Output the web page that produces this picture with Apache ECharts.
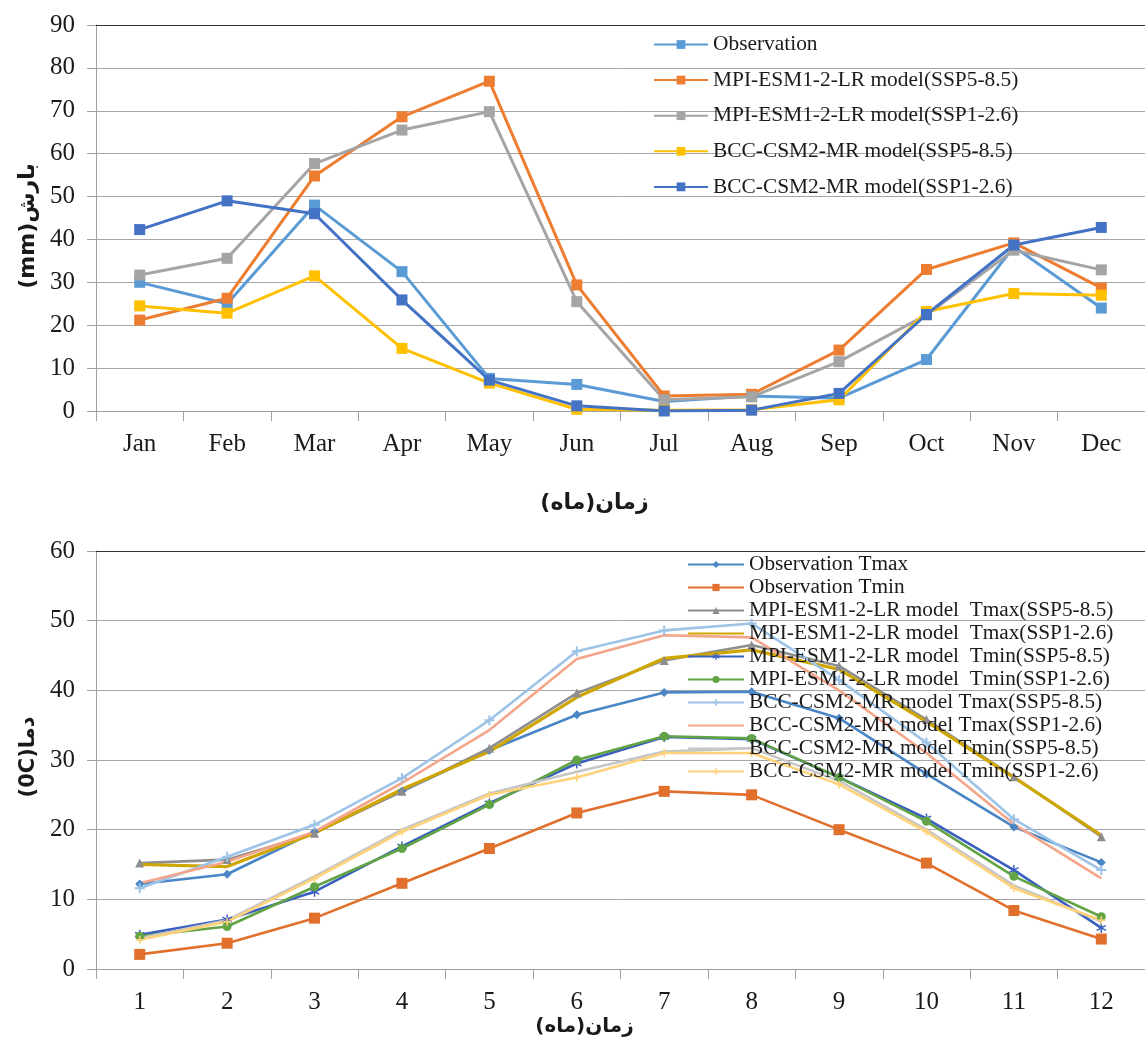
<!DOCTYPE html>
<html>
<head>
<meta charset="utf-8">
<script src="https://cdn.jsdelivr.net/npm/echarts@6/dist/echarts.min.js"></script>
<style>html,body{margin:0;padding:0;background:#fff;}#c{width:1145px;height:1039px;}</style>
</head>
<body>
<div id="c"></div>
<script>
// ---- Top chart: precipitation ----
const months = ['Jan','Feb','Mar','Apr','May','Jun','Jul','Aug','Sep','Oct','Nov','Dec'];
const obsP    = [30, 25, 48, 32.5, 7.6, 6.2, 2.2, 3.5, 3, 12, 38.3, 24];
const mpi585P = [21.2, 26.3, 54.8, 68.6, 76.9, 29.4, 3.5, 3.9, 14.2, 33, 39.2, 28.7];
const mpi126P = [31.7, 35.6, 57.7, 65.5, 69.8, 25.5, 2.6, 3.3, 11.5, 22.4, 37.5, 32.9];
const bcc585P = [24.5, 22.8, 31.5, 14.6, 6.5, 0.4, 0.2, 0.3, 2.6, 23.2, 27.4, 27];
const bcc126P = [42.3, 49, 46, 25.9, 7.2, 1.2, 0, 0.2, 4.1, 22.5, 38.7, 42.8];
const precipTicks = [0, 90, 10];

// ---- Bottom chart: temperature ----
const monthNums = ['1','2','3','4','5','6','7','8','9','10','11','12'];
const obsTmax    = [12.2, 13.6, 19.7, 25.5, 31.4, 36.5, 39.7, 39.8, 36, 28, 20.4, 15.3];
const obsTmin    = [2.1, 3.7, 7.3, 12.3, 17.3, 22.4, 25.5, 25, 20, 15.2, 8.4, 4.3];
const mpiTmax585 = [15.2, 15.7, 19.5, 25.5, 31.7, 39.6, 44.3, 46.5, 43.5, 35.8, 27.6, 19];
const mpiTmax126 = [15, 14.7, 19.5, 25.8, 31.2, 39, 44.6, 45.8, 43, 35.5, 27.5, 19.2];
const mpiTmin585 = [4.9, 7.1, 11.1, 17.6, 23.8, 29.5, 33.3, 33, 27.5, 21.6, 14.2, 5.9];
const mpiTmin126 = [4.7, 6.1, 11.8, 17.3, 23.6, 30, 33.4, 33.1, 27.5, 21.2, 13.3, 7.5];
const bccTmax585 = [11.6, 16.1, 20.7, 27.4, 35.7, 45.6, 48.6, 49.6, 41.5, 32.5, 21.5, 14.2];
const bccTmax126 = [12.3, 15.4, 19.7, 26.7, 34.3, 44.5, 47.9, 47.6, 40, 31, 20.8, 13];
const bccTmin585 = [4.4, 7, 13.3, 20, 25.2, 28.3, 31.2, 31.7, 27, 20, 12, 6.8];
const bccTmin126 = [4.2, 6.8, 13, 19.7, 25, 27.5, 31, 31, 26.5, 19.7, 11.6, 7];
const tempTicks = [0, 60, 10];

const topNames = ['Observation','MPI-ESM1-2-LR model(SSP5-8.5)','MPI-ESM1-2-LR model(SSP1-2.6)','BCC-CSM2-MR model(SSP5-8.5)','BCC-CSM2-MR model(SSP1-2.6)'];
const botNames = ['Observation Tmax','Observation Tmin','MPI-ESM1-2-LR model  Tmax(SSP5-8.5)','MPI-ESM1-2-LR model  Tmax(SSP1-2.6)','MPI-ESM1-2-LR model  Tmin(SSP5-8.5)','MPI-ESM1-2-LR model  Tmin(SSP1-2.6)','BCC-CSM2-MR model Tmax(SSP5-8.5)','BCC-CSM2-MR model Tmax(SSP1-2.6)','BCC-CSM2-MR model Tmin(SSP5-8.5)','BCC-CSM2-MR model Tmin(SSP1-2.6)'];

// axis titles, split into visual-order pieces (left to right on screen)
const xNameParts = ['(', 'ماه', ')', 'زمان'];
const yNameTopParts = ['(mm)', 'بارش'];
const yNameBotParts = ['(0C)', 'دما'];

const serif = 'Liberation Serif';
const persian = 'DejaVu Sans';
const plusPath = 'path://M4,0L6,0L6,4L10,4L10,6L6,6L6,10L4,10L4,6L0,6L0,4L4,4Z';
const starPath = 'path://M4.3,0L5.7,0L5.7,3.6L9,2L9.6,3.2L6.4,5L9.6,6.8L9,8L5.7,6.4L5.7,10L4.3,10L4.3,6.4L1,8L0.4,6.8L3.6,5L0.4,3.2L1,2L4.3,3.6Z';

function richName(parts) { return parts.map(p => '{n|' + p + '}').join(''); }
function nameStyle(fs, pad) {
  return {
    fontFamily: persian, fontWeight: 'bold', fontSize: fs, color: '#1a1a1a', padding: pad,
    rich: { n: { fontFamily: persian, fontWeight: 'bold', fontSize: fs, color: '#1a1a1a' } }
  };
}

const chart = echarts.init(document.getElementById('c'));

function xCat(grid, data, name, gap, pad, fs) {
  return {
    type: 'category', gridIndex: grid, data: data, boundaryGap: true,
    axisLine: { lineStyle: { color: '#a0a0a0', width: 1 } },
    axisTick: { show: true, length: 10, lineStyle: { color: '#a0a0a0' } },
    axisLabel: { fontFamily: serif, fontSize: 25, color: '#1a1a1a', margin: 21 },
    name: name, nameLocation: 'middle', nameGap: gap,
    nameTextStyle: nameStyle(fs, pad)
  };
}
function xTop(grid, data) {
  return {
    type: 'category', gridIndex: grid, data: data, position: 'top',
    axisLine: { lineStyle: { color: '#333', width: 1.2 } },
    axisTick: { show: false }, axisLabel: { show: false }
  };
}
function yVal(grid, t, name, gap, fs, pad) {
  return {
    type: 'value', gridIndex: grid, min: t[0], max: t[1], interval: t[2],
    axisLine: { show: true, lineStyle: { color: '#a0a0a0' } },
    axisTick: { show: true, length: 9, lineStyle: { color: '#a0a0a0' } },
    splitLine: { lineStyle: { color: '#a6a6a6', width: 1 } },
    axisLabel: { fontFamily: serif, fontSize: 25, color: '#1a1a1a', margin: 21 },
    name: name, nameLocation: 'middle', nameRotate: 90, nameGap: gap,
    nameTextStyle: nameStyle(fs, pad)
  };
}
function topSeries(name, data, color) {
  return {
    name: name, type: 'line', xAxisIndex: 0, yAxisIndex: 0, data: data,
    symbol: 'rect', symbolSize: 11, showSymbol: true,
    lineStyle: { color: color, width: 3 }, itemStyle: { color: color }
  };
}
function botSeries(name, data, color, symbol, size, width) {
  return {
    name: name, type: 'line', xAxisIndex: 2, yAxisIndex: 1, data: data,
    symbol: symbol, symbolSize: size, showSymbol: symbol !== 'none',
    lineStyle: { color: color, width: width || 2.6 }, itemStyle: { color: color }
  };
}

const noMarker = [3, 7, 8];
const botLegendData = botNames.map((n, i) =>
  noMarker.indexOf(i) >= 0 ? { name: n, itemStyle: { opacity: 0 } } : { name: n });

chart.setOption({
  animation: false,
  backgroundColor: '#ffffff',
  grid: [
    { left: 96, right: -7, top: 25, height: 386 },
    { left: 96, right: -7, top: 551, height: 418 }
  ],
  xAxis: [
    xCat(0, months, richName(xNameParts), 81, [0, 52, 0, 0], 22),
    xTop(0, months),
    xCat(1, monthNums, richName(xNameParts), 48, [0, 72, 0, 0], 20),
    xTop(1, monthNums)
  ],
  yAxis: [
    yVal(0, precipTicks, richName(yNameTopParts), 57, 22, [0, 16, 0, 0]),
    yVal(1, tempTicks, richName(yNameBotParts), 57, 21, [0, 0, 0, 6])
  ],
  legend: [
    {
      data: topNames, orient: 'vertical', left: 653, top: 34, padding: 0,
      itemWidth: 54, itemHeight: 11, itemGap: 14.6,
      textStyle: { fontFamily: serif, fontSize: 21.4, color: '#1a1a1a' }
    },
    {
      data: botLegendData, orient: 'vertical', left: 687, top: 554, padding: 0,
      itemWidth: 56, itemHeight: 9, itemGap: 2,
      textStyle: { fontFamily: serif, fontSize: 21.3, color: '#1a1a1a' }
    }
  ],
  series: [
    topSeries(topNames[0], obsP, '#5B9BD5'),
    topSeries(topNames[1], mpi585P, '#ED7D31'),
    topSeries(topNames[2], mpi126P, '#A5A5A5'),
    topSeries(topNames[3], bcc585P, '#FFC000'),
    topSeries(topNames[4], bcc126P, '#4472C4'),

    botSeries(botNames[0], obsTmax, '#4A86C5', 'diamond', 9),
    botSeries(botNames[1], obsTmin, '#E0702C', 'rect', 11),
    botSeries(botNames[2], mpiTmax585, '#8E8E8E', 'triangle', 9),
    botSeries(botNames[3], mpiTmax126, '#CFA600', 'none', 0, 3.2),
    botSeries(botNames[4], mpiTmin585, '#3A5FBF', starPath, 10),
    botSeries(botNames[5], mpiTmin126, '#62A445', 'circle', 9),
    botSeries(botNames[6], bccTmax585, '#9DC3E6', plusPath, 10),
    botSeries(botNames[7], bccTmax126, '#F4A58A', 'none', 0),
    botSeries(botNames[8], bccTmin585, '#C6C6C6', 'none', 0),
    botSeries(botNames[9], bccTmin126, '#FFD27A', plusPath, 8)
  ]
});
</script>
</body>
</html>
